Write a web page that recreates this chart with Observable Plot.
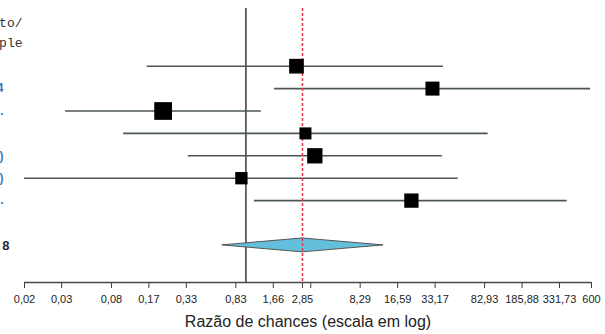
<!DOCTYPE html>
<html>
<head>
<meta charset="utf-8">
<script src="https://cdn.jsdelivr.net/npm/d3@7"></script>
<script src="https://cdn.jsdelivr.net/npm/@observablehq/plot@0.6"></script>
<style>
  html, body { margin: 0; padding: 0; background: #fff; }
  #chart svg { display: block; }
</style>
</head>
<body>
<div id="chart"></div>
<script>
// ---- data ----
const rowLabelTails = ["", "4", ".", "", ")", ")", "."];
const oddsRatio = [2.55, 31.6, 0.216, 3.01, 3.58, 0.92, 21.4];
const ciLow = [0.161, 1.70, 0.0355, 0.104, 0.344, 0.0166, 1.17];
const ciHigh = [38.7, 589, 1.33, 88.6, 38.0, 50.8, 382];
const weights = [14.8, 13.4, 21.5, 9.9, 16.0, 10.4, 14.0];
const pooledLabelTail = "8";
const pooledOR = 2.85;
const pooledLow = 0.645;
const pooledHigh = 12.8;
const headerTails = ["to/", "ple"];
const tickValues = [0.0166, 0.033, 0.083, 0.166, 0.332, 0.83, 1.66, 2.85, 3.32, 8.29, 16.59, 33.17, 82.93, 165.9, 331.73, 600];
const tickLabels = ["0,02", "0,03", "0,08", "0,17", "0,33", "0,83", "1,66", "2,85", "", "8,29", "16,59", "33,17", "82,93", "185,88", "331,73", "600"];
const xTitle = "Razão de chances (escala em log)";

// ---- table ----
const studies = oddsRatio.map((or, i) => ({
  row: i, or, lo: ciLow[i], hi: ciHigh[i], w: weights[i], tail: rowLabelTails[i]
}));
const ticksTable = tickValues.map((v, i) => ({v, label: tickLabels[i]}));
const pooledRow = 8;
const halfH = 0.31;
const diamond = [
  {y: pooledRow - halfH, x1: pooledOR, x2: pooledOR},
  {y: pooledRow, x1: pooledLow, x2: pooledHigh},
  {y: pooledRow + halfH, x1: pooledOR, x2: pooledOR}
];
const yDomain = [-2.576, 9.656];

const font = "Liberation Sans, Arial, sans-serif";
const mono = "Liberation Mono, Courier New, monospace";
const plot = Plot.plot({
  width: 605,
  height: 334,
  marginLeft: 24,
  marginRight: 14,
  marginTop: 8,
  marginBottom: 52,
  style: {fontFamily: font, fontSize: "11px", color: "#3a3a3a", background: "#fff"},
  x: {
    type: "log",
    domain: [0.0166, 600],
    ticks: tickValues,
    tickFormat: () => "",
    tickSize: 6,
    label: null
  },
  y: {domain: yDomain, reverse: true, axis: null},
  r: {type: "sqrt", domain: [0, 21.5], range: [0, 10]},
  marks: [
    Plot.ruleY([yDomain[1]], {stroke: "#4a4a4a", strokeWidth: 1.5}),
    Plot.ruleX([1], {stroke: "#3a3a3a", strokeWidth: 1.5}),
    Plot.ruleY(studies, {y: "row", x1: "lo", x2: "hi", stroke: "#4d5656", strokeWidth: 1.6}),
    Plot.areaX(diamond, {y: "y", x1: "x1", x2: "x2", fill: "#63bfdc", stroke: "#555", strokeWidth: 1}),
    Plot.ruleX([pooledOR], {stroke: "#e6324b", strokeWidth: 1.5, strokeDasharray: "3,2"}),
    Plot.dot(studies, {x: "or", y: "row", r: "w", symbol: "square", fill: "#000", stroke: "none"}),
    Plot.text(ticksTable, {x: "v", text: "label", frameAnchor: "bottom", dy: 20, fill: "#222", fontSize: 11, fontFamily: font}),
    Plot.text(studies, {y: "row", text: "tail", frameAnchor: "left", dx: -21, textAnchor: "end", fill: "#3a78c0", fontSize: 12, fontWeight: "bold"}),
    Plot.text([pooledLabelTail], {y: [pooledRow], text: d => d, frameAnchor: "left", dx: -15, textAnchor: "end", fill: "#1d2a3a", fontSize: 13, fontWeight: "bold"}),
    Plot.text([headerTails[0]], {text: d => d, frameAnchor: "top-left", dx: -2, dy: 9, textAnchor: "end", fill: "#333", fontSize: 13, fontFamily: mono}),
    Plot.text([headerTails[1]], {text: d => d, frameAnchor: "top-left", dx: -2, dy: 29, textAnchor: "end", fill: "#333", fontSize: 13, fontFamily: mono}),
    Plot.text([xTitle], {text: d => d, frameAnchor: "bottom", dy: 44, fontSize: 16, fill: "#222", fontFamily: font})
  ]
});
document.getElementById("chart").appendChild(plot);
</script>
</body>
</html>
